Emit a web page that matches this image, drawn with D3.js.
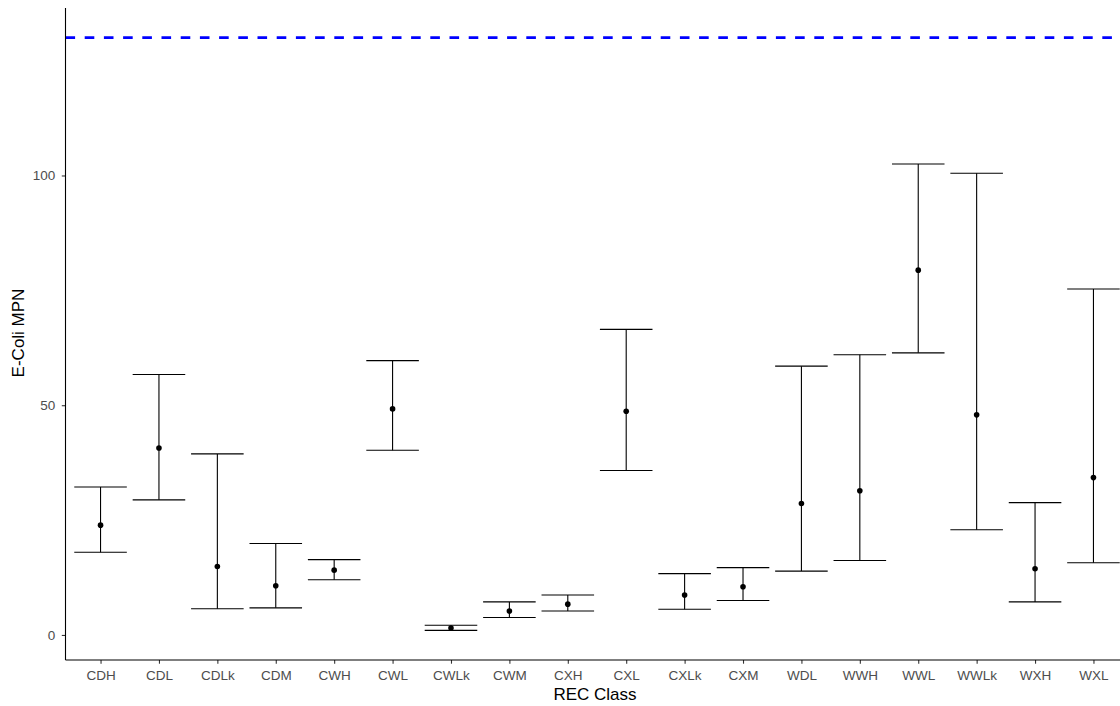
<!DOCTYPE html>
<html>
<head>
<meta charset="utf-8">
<script src="https://cdn.jsdelivr.net/npm/d3@7"></script>
<style>
  html, body { margin: 0; padding: 0; background: #fff; }
  svg { display: block; }
</style>
</head>
<body>
<svg id="chart" width="1120" height="706"></svg>
<script>
const categories = ["CDH","CDL","CDLk","CDM","CWH","CWL","CWLk","CWM","CXH","CXL","CXLk","CXM","WDL","WWH","WWL","WWLk","WXH","WXL"];
const meanValues  = [23.9, 40.7, 14.9, 10.7, 14.1, 49.2, 1.5, 5.2, 6.7, 48.7, 8.7, 10.5, 28.6, 31.4, 79.4, 47.9, 14.4, 34.25];
const lowerValues = [18.0, 29.4, 5.7, 5.9, 12.0, 40.2, 1.0, 3.8, 5.2, 35.8, 5.6, 7.5, 13.9, 16.2, 61.4, 22.9, 7.2, 15.7];
const upperValues = [32.2, 56.7, 39.4, 19.9, 16.4, 59.7, 2.1, 7.2, 8.7, 66.5, 13.35, 14.65, 58.5, 61.0, 102.5, 100.5, 28.8, 75.3];
const thresholdValue = 130;
const yTicks = [0, 50, 100];
const xTitle = "REC Class";
const yTitle = "E-Coli MPN";

(function () {
const svg = d3.select("#chart");
const pLeft = 65.5, pRight = 1128.5, pTop = 8, pBottom = 660;

const x = d3.scalePoint().domain(categories).range([pLeft, pRight]).padding(0.6);
const lo = Math.min(d3.min(lowerValues), thresholdValue);
const hi = Math.max(d3.max(upperValues), thresholdValue);
const pad = (hi - lo) * 0.05;
const y = d3.scaleLinear().domain([lo - pad, hi + pad]).range([pBottom, pTop]);

const data = categories.map((c, i) => ({c, m: meanValues[i], l: lowerValues[i], u: upperValues[i]}));
const capW = x.step() * 0.9;

const panel = svg.append("g");

// threshold dashed line
panel.append("line")
  .attr("x1", pLeft).attr("x2", pRight)
  .attr("y1", y(thresholdValue)).attr("y2", y(thresholdValue))
  .attr("stroke", "#0000FF").attr("stroke-width", 2.8)
  .attr("stroke-dasharray", "9.6 9.6");

// error bars
const eb = panel.selectAll("g.eb").data(data).join("g").attr("class", "eb");
eb.append("line")
  .attr("x1", d => x(d.c)).attr("x2", d => x(d.c))
  .attr("y1", d => y(d.l)).attr("y2", d => y(d.u))
  .attr("stroke", "#000").attr("stroke-width", 1.1);
eb.append("line")
  .attr("x1", d => x(d.c) - capW/2).attr("x2", d => x(d.c) + capW/2)
  .attr("y1", d => y(d.u)).attr("y2", d => y(d.u))
  .attr("stroke", "#000").attr("stroke-width", 1.1);
eb.append("line")
  .attr("x1", d => x(d.c) - capW/2).attr("x2", d => x(d.c) + capW/2)
  .attr("y1", d => y(d.l)).attr("y2", d => y(d.l))
  .attr("stroke", "#000").attr("stroke-width", 1.1);

// points
panel.selectAll("circle.pt").data(data).join("circle").attr("class", "pt")
  .attr("cx", d => x(d.c)).attr("cy", d => y(d.m)).attr("r", 2.8)
  .attr("fill", "#000");

// axes
const font = "'Liberation Sans', Arial, sans-serif";
const xAxis = svg.append("g").attr("transform", `translate(0,${pBottom})`)
  .call(d3.axisBottom(x).tickSize(3.7).tickPadding(6.8).tickSizeOuter(0));
const yAxis = svg.append("g").attr("transform", `translate(${pLeft},0)`)
  .call(d3.axisLeft(y).tickValues(yTicks).tickSize(3.7).tickPadding(6.5).tickSizeOuter(0));

[xAxis, yAxis].forEach(a => {
  a.select(".domain").remove();
  a.selectAll(".tick line").attr("stroke", "#333333").attr("stroke-width", 1.1);
  a.selectAll(".tick text").attr("fill", "#4D4D4D")
    .style("font-family", font).style("font-size", "13.5px");
});
// axis lines
svg.append("line").attr("x1", pLeft).attr("x2", pLeft).attr("y1", pTop).attr("y2", pBottom)
  .attr("stroke", "#000").attr("stroke-width", 1.1);
svg.append("line").attr("x1", pLeft).attr("x2", pRight).attr("y1", pBottom).attr("y2", pBottom)
  .attr("stroke", "#000").attr("stroke-width", 1.1);

// titles
svg.append("text").attr("x", 595).attr("y", 699.5)
  .attr("text-anchor", "middle").attr("fill", "#000")
  .style("font-family", font).style("font-size", "17px").text(xTitle);
svg.append("text")
  .attr("transform", `translate(23.5, 333) rotate(-90)`)
  .attr("text-anchor", "middle").attr("fill", "#000")
  .style("font-family", font).style("font-size", "17px").text(yTitle);
})();
</script>
</body>
</html>
